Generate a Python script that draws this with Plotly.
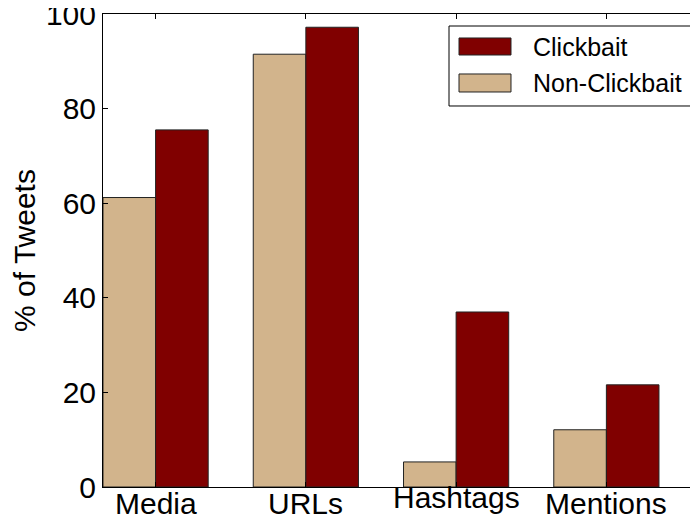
import numpy as np
import plotly.graph_objects as go

categories = ["Media", "URLs", "Hashtags", "Mentions"]
non_clickbait = [61.2, 91.5, 5.3, 12.1]
clickbait = [75.5, 97.2, 37.0, 21.6]
y_ticks = [0, 20, 40, 60, 80, 100]
legend_labels = ["Clickbait", "Non-Clickbait"]
colors = {"Clickbait": "#800000", "Non-Clickbait": "#D2B48C"}

bar_width = 0.35
ind = np.arange(len(categories))

FONT = "Liberation Sans, Arial, Helvetica, sans-serif"

fig = go.Figure()
fig.add_trace(go.Bar(
    x=ind, y=non_clickbait, width=bar_width, offset=0,
    name="Non-Clickbait", showlegend=False,
    marker=dict(color=colors["Non-Clickbait"], line=dict(color="#222222", width=1)),
))
fig.add_trace(go.Bar(
    x=ind, y=clickbait, width=bar_width, offset=bar_width,
    name="Clickbait", showlegend=False,
    marker=dict(color=colors["Clickbait"], line=dict(color="#222222", width=1)),
))

# x tick labels as annotations (placed tight under the axis like the original)
annotations = []
for i, cat in enumerate(categories):
    annotations.append(dict(
        x=ind[i] + bar_width, xref="x", y=0, yref="paper",
        text=cat, showarrow=False, xanchor="center", yanchor="top",
        yshift=(8 if cat == "Hashtags" else 2),
        font=dict(size=30, family=FONT, color="black"),
    ))

# custom legend (matplotlib-style wide patches)
shapes = [dict(type="rect", xref="paper", yref="paper",
               x0=0.5738, x1=0.9768, y0=0.8055, y1=0.9746,
               line=dict(color="black", width=1), fillcolor="white")]
patch_rows = [(0.9133, 0.9493, 0.9302), (0.8351, 0.8732, 0.8541)]
for lab, (y0, y1, yc) in zip(legend_labels, patch_rows):
    shapes.append(dict(type="rect", xref="paper", yref="paper",
                       x0=0.5904, x1=0.6766, y0=y0, y1=y1,
                       line=dict(color="#222222", width=1), fillcolor=colors[lab]))
    annotations.append(dict(
        x=0.7098, xref="paper", y=yc, yref="paper", text=lab,
        showarrow=False, xanchor="left", yanchor="middle",
        font=dict(size=25, family=FONT, color="black"),
    ))

fig.update_layout(
    width=698, height=520,
    margin=dict(l=95, r=0, t=6, b=41, autoexpand=False),
    paper_bgcolor="white", plot_bgcolor="white",
    barmode="overlay",
    font=dict(family=FONT, size=30, color="black"),
    showlegend=False,
    shapes=shapes,
    annotations=annotations,
)
fig.update_xaxes(
    range=[0, 4.013],
    tickmode="array", tickvals=ind + bar_width, ticktext=[""] * len(categories),
    ticks="inside", ticklen=5, tickcolor="black",
    showline=True, linecolor="black", linewidth=1, mirror="ticks",
    showgrid=False, zeroline=False, automargin=False,
)
fig.update_yaxes(
    range=[0, 100],
    tickmode="array", tickvals=y_ticks,
    ticks="inside", ticklen=5, tickcolor="black",
    showline=True, linecolor="black", linewidth=1, mirror=False,
    showgrid=False, zeroline=False, automargin=False,
    ticklabeloverflow="allow",
    tickfont=dict(size=30),
    title=dict(text="% of Tweets", font=dict(size=30), standoff=10),
)

fig.write_html("out.html")
